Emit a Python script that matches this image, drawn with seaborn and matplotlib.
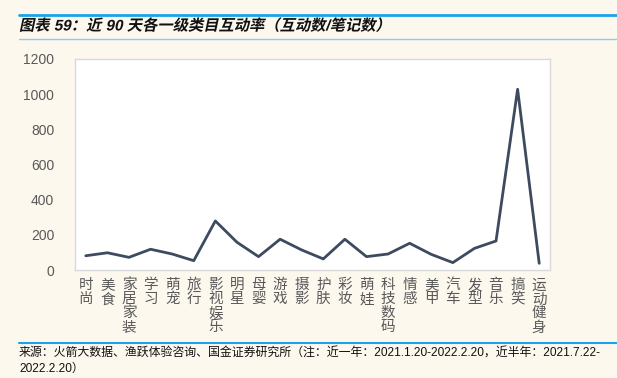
import matplotlib
matplotlib.use("Agg")
import matplotlib.pyplot as plt
import matplotlib.patheffects as pe
from matplotlib.transforms import Affine2D
import seaborn as sns
import pandas as pd
import numpy as np
from matplotlib.lines import Line2D

categories = ["时尚", "美食", "家居家装", "学习", "萌宠", "旅行", "影视娱乐", "明星", "母婴", "游戏",
              "摄影", "护肤", "彩妆", "萌娃", "科技数码", "情感", "美甲", "汽车", "发型", "音乐",
              "搞笑", "运动健身"]
values = [81, 98, 72, 118, 91, 53, 279, 158, 76, 175,
          114, 63, 175, 76, 91, 152, 89, 42, 123, 165,
          1028, 38]
yticks = [0, 200, 400, 600, 800, 1000, 1200]

title = "图表 59：近 90 天各一级类目互动率（互动数/笔记数）"
footer1 = "来源：火箭大数据、渔跃体验咨询、国金证券研究所（注：近一年：2021.1.20-2022.2.20，近半年：2021.7.22-"
footer2 = "2022.2.20）"


class Slant(pe.AbstractPathEffect):
    def __init__(self, deg=12):
        super().__init__()
        self.deg = deg

    def draw_path(self, renderer, gc, tpath, affine, rgbFace=None):
        m = affine.get_matrix()
        tx, ty = m[0, 2], m[1, 2]
        sk = Affine2D().translate(-tx, -ty).skew_deg(self.deg, 0).translate(tx, ty)
        renderer.draw_path(gc, tpath, affine + sk, rgbFace)


sns.set_theme(style="white")
plt.rcParams['font.family'] = ['Liberation Sans', 'Noto Sans CJK SC', 'DejaVu Sans']

bg = "#FDF8EE"
fig = plt.figure(figsize=(6.17, 3.78), dpi=100, facecolor=bg)
ax = fig.add_axes([75/617, 1-270/378, 475/617, 211/378])
ax.set_facecolor("white")

df = pd.DataFrame({"cat": categories, "val": values, "idx": np.arange(len(categories))})
sns.lineplot(data=df, x="idx", y="val", ax=ax, color="#3D4A5F", linewidth=2.0, sort=False)

ax.set_xlim(-0.5, len(categories) - 0.5)
ax.set_ylim(0, 1200)
ax.set_yticks(yticks)
ax.set_yticklabels([str(v) for v in yticks], color="#595959", fontsize=10)
ax.set_xticks(np.arange(len(categories)))
ax.set_xticklabels(["\n".join(c) for c in categories], color="#595959", fontsize=10.5,
                   family=['Noto Sans CJK SC', 'DejaVu Sans'], va="top", linespacing=1.0)
ax.tick_params(axis="x", which="major", length=0, pad=6)
ax.tick_params(axis="y", which="major", length=0, pad=15)
ax.set_xticks(np.arange(-0.5, len(categories)), minor=True)
ax.tick_params(axis="x", which="minor", length=3, direction="in", color="#D0D0D0", width=0.8)
ax.set_xlabel("")
ax.set_ylabel("")
for s in ax.spines.values():
    s.set_visible(True)
    s.set_color("#D9D9D9")
    s.set_linewidth(1.0)
ax.grid(False)

# header / footer decorations
fig.add_artist(Line2D([19/617, 1], [1-14.5/378, 1-14.5/378], color="#1AA3E8", linewidth=2.0))
fig.add_artist(Line2D([19/617, 1], [1-38.5/378, 1-38.5/378], color="#8CCDF0", linewidth=1.0))
fig.text(19/617, 1-26/378, title, fontsize=11, fontweight="bold",
         va="center", ha="left", color="#111111", path_effects=[Slant(12)])
fig.add_artist(Line2D([19/617, 1], [1-343/378, 1-343/378], color="#1AA3E8", linewidth=1.5))
fig.text(19/617, 1-354/378, footer1, fontsize=8.6, va="center", ha="left", color="#111111")
fig.text(19/617, 1-369/378, footer2, fontsize=8.6, va="center", ha="left", color="#111111")

fig.savefig("out.png", dpi=100, facecolor=bg)
